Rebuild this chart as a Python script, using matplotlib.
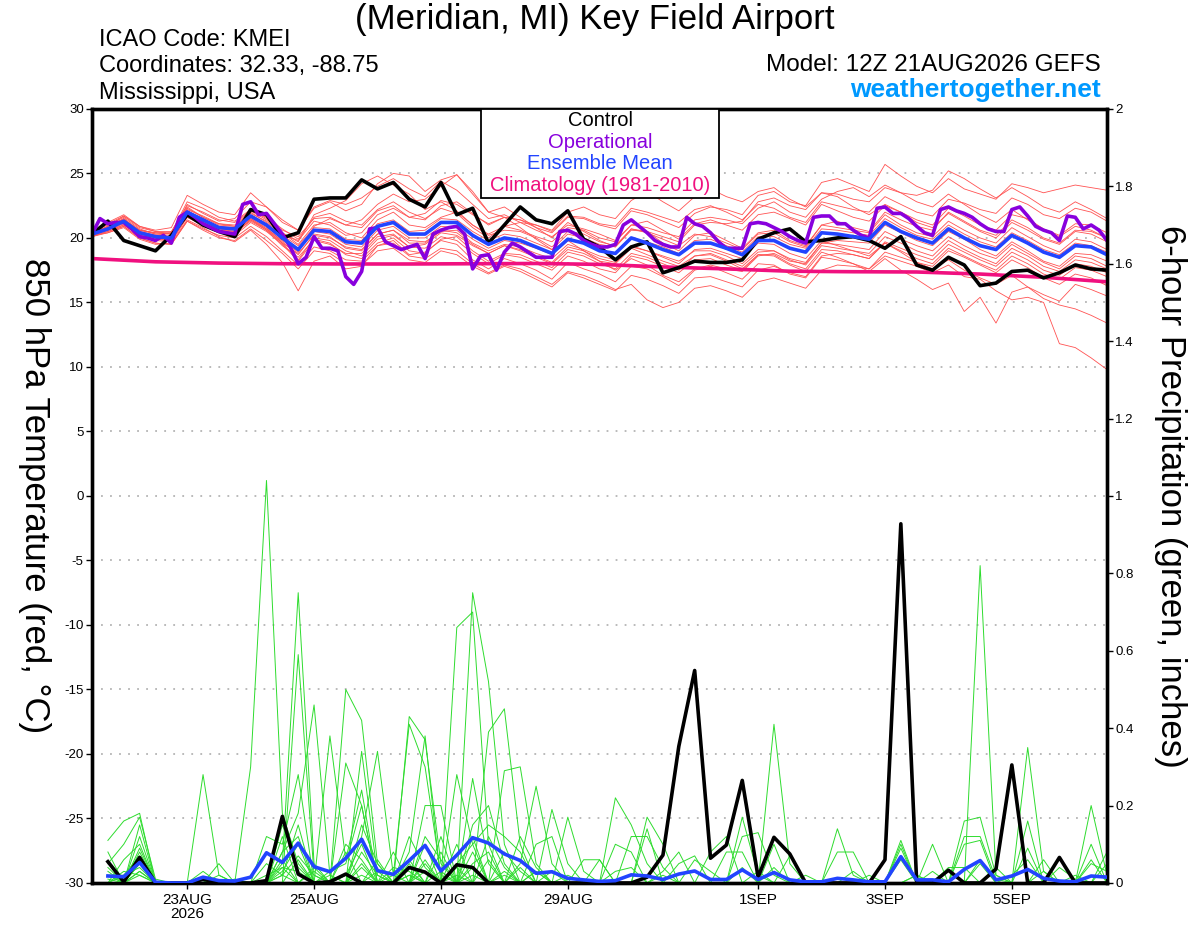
import matplotlib
matplotlib.use('Agg')
import matplotlib.pyplot as plt
import numpy as np
from matplotlib.patches import Rectangle

plt.rcParams['font.family'] = ['Liberation Sans', 'DejaVu Sans']

# Forecast from 12Z 21AUG2026, values every 6 h (temperature) / 3 h (operational)
control_temp = [
    20.3, 21.3, 19.8, 19.4, 19.0, 20.2, 21.8, 21.0,
    20.5, 20.1, 22.2, 21.8, 20.0, 20.4, 23.0, 23.1,
    23.1, 24.5, 23.8, 24.3, 23.0, 22.4, 24.3, 21.8,
    22.3, 19.6, 21.0, 22.4, 21.4, 21.1, 22.1, 19.9,
    19.3, 18.3, 19.3, 19.7, 17.3, 17.7, 18.2, 18.1,
    18.1, 18.3, 19.9, 20.4, 20.7, 19.7, 19.8, 20.0,
    20.1, 19.8, 19.2, 20.1, 17.9, 17.5, 18.5, 17.9,
    16.3, 16.5, 17.4, 17.5, 16.9, 17.3, 17.9, 17.6,
    17.5]

operational_temp = [
    20.3, 21.5, 21.1, 21.2, 21.2, 20.7, 20.1, 20.0,
    19.8, 20.2, 19.6, 21.6, 22.0, 21.6, 21.1, 20.8,
    20.5, 20.4, 20.3, 22.6, 22.8, 21.8, 21.9, 21.1,
    20.3, 19.3, 18.0, 18.5, 20.1, 19.2, 19.2, 19.0,
    17.0, 16.4, 17.4, 20.7, 20.8, 19.7, 19.4, 19.1,
    19.3, 19.5, 18.4, 20.3, 20.6, 20.8, 20.9, 20.3,
    17.6, 18.6, 18.7, 17.5, 18.9, 19.6, 19.3, 18.9,
    18.5, 18.5, 18.5, 20.5, 20.6, 20.3, 19.8, 19.5,
    19.3,
    19.3, 19.5, 21.0, 21.4, 20.9, 20.4, 19.8, 19.5,
    19.3, 19.3, 21.6, 21.1, 20.9, 20.4, 19.7, 19.2,
    19.2, 19.2, 21.1, 21.2, 21.1, 20.8, 20.5, 20.1,
    19.8, 19.6, 21.6, 21.7, 21.7, 21.1, 21.1, 20.6,
    20.2, 20.0, 22.3, 22.4, 21.9, 21.9, 21.5, 20.9,
    20.4, 20.2, 22.2, 22.4, 22.1, 21.9, 21.6, 21.1,
    20.7, 20.5, 20.5, 22.2, 22.4, 21.7, 20.9, 20.6,
    20.4, 19.8, 21.7, 21.6, 20.7, 21.0, 20.6, 19.8]

mean_temp = [
    20.3, 20.7, 21.3, 20.4, 20.1, 20.0, 22.0, 21.4,
    20.8, 20.7, 21.7, 21.0, 20.0, 19.1, 20.6, 20.5,
    19.7, 19.6, 20.9, 21.2, 20.3, 20.3, 21.2, 21.2,
    20.2, 19.5, 20.0, 19.8, 19.3, 18.8, 19.9, 19.6,
    19.0, 18.8, 20.0, 19.6, 19.1, 18.7, 19.6, 19.6,
    19.2, 18.7, 19.8, 19.8, 19.2, 18.9, 20.4, 20.3,
    20.1, 19.9, 21.2, 20.5, 20.0, 19.6, 20.7, 20.0,
    19.4, 19.1, 20.2, 19.6, 18.9, 18.5, 19.4, 19.3,
    18.7]

# daily climatology (1981-2010)
climatology = [18.4, 18.15, 18.05, 18.0, 17.98, 17.98, 18.0, 18.02, 17.95,
               17.75, 17.6, 17.42, 17.38, 17.36, 17.2, 16.95, 16.6]

temp_members = [
    [20.4, 21.2, 21.8, 20.9, 20.5, 20.3, 22.6, 21.9, 21.3, 21.5, 22.8, 22.4, 21.2, 20.6, 22.4, 22.9,
     22.6, 23.1, 24.0, 24.6, 23.8, 23.2, 24.4, 23.7, 22.6, 21.5, 21.8, 21.2, 20.6, 20.1, 21.0, 20.7,
     20.3, 19.8, 21.0, 21.3, 20.6, 19.9, 21.1, 21.4, 21.0, 20.6, 21.8, 22.0, 21.5, 21.0, 22.6, 22.1,
     21.6, 21.3, 22.5, 22.0, 21.4, 21.0, 22.3, 21.7, 21.0, 20.6, 21.8, 21.5, 20.7, 20.2, 21.1, 21.0, 20.4],
    [20.2, 20.4, 20.8, 19.9, 19.5, 19.6, 21.4, 20.8, 20.1, 19.7, 20.6, 19.5, 18.1, 15.9, 18.2, 18.6,
     17.6, 17.8, 19.4, 19.8, 18.7, 18.9, 19.8, 19.5, 18.3, 17.6, 18.4, 18.0, 17.5, 16.8, 18.1, 17.6,
     17.2, 16.6, 17.8, 17.6, 17.0, 16.3, 17.5, 17.8, 17.3, 16.8, 18.0, 17.9, 17.2, 16.9, 18.5, 18.3,
     18.0, 17.6, 18.6, 18.2, 17.8, 17.3, 17.9, 17.0, 16.8, 15.9, 15.2, 15.4, 15.0, 11.8, 11.5, 10.7, 9.8],
    [20.5, 21.0, 21.6, 20.7, 20.3, 20.4, 22.3, 21.6, 21.0, 20.9, 22.0, 21.2, 20.3, 19.8, 21.3, 21.0,
     20.2, 20.4, 21.8, 22.3, 21.6, 21.4, 22.5, 22.8, 21.9, 21.0, 21.6, 21.4, 20.8, 20.4, 21.6, 21.5,
     21.0, 20.7, 22.1, 21.8, 21.3, 20.8, 21.9, 22.4, 22.2, 21.8, 23.3, 23.6, 22.8, 22.5, 24.3, 24.6,
     24.1, 23.6, 25.7, 24.8, 24.0, 23.5, 24.6, 23.8, 23.4, 23.0, 24.2, 23.9, 23.5, 23.8, 24.1, 23.9, 23.7],
    [20.3, 20.9, 21.7, 20.9, 20.6, 20.8, 23.3, 22.6, 22.0, 21.8, 23.5, 22.4, 21.4, 20.6, 22.3, 22.8,
     22.1, 22.6, 24.2, 25.0, 24.8, 23.6, 24.5, 24.9, 23.4, 22.0, 22.4, 21.6, 20.8, 20.0, 21.2, 20.5,
     19.8, 19.3, 20.7, 20.5, 19.6, 19.0, 20.2, 20.4, 19.8, 19.2, 20.4, 20.6, 19.8, 19.4, 21.0, 21.3,
     20.8, 20.5, 22.0, 21.4, 20.9, 20.6, 22.0, 21.3, 20.6, 20.2, 21.4, 20.8, 20.0, 19.6, 20.6, 20.5, 20.0],
    [20.2, 20.6, 21.1, 20.1, 19.8, 19.7, 21.6, 21.0, 20.5, 20.4, 21.4, 20.6, 19.4, 18.5, 19.9, 19.6,
     18.7, 18.4, 19.6, 20.0, 19.0, 18.8, 19.9, 20.1, 19.0, 18.2, 18.8, 18.7, 18.2, 17.7, 18.9, 18.6,
     18.0, 17.6, 18.8, 18.5, 18.0, 17.5, 18.6, 18.7, 18.2, 17.6, 18.7, 18.6, 17.9, 17.4, 18.9, 18.5,
     18.0, 17.4, 18.4, 17.5, 16.8, 16.0, 16.5, 14.3, 15.4, 13.4, 15.8, 16.2, 15.6, 15.1, 16.4, 16.0, 15.5],
    [20.4, 20.8, 21.5, 20.6, 20.3, 20.2, 22.4, 21.6, 21.1, 20.9, 21.9, 21.3, 20.4, 19.5, 21.0, 21.2,
     20.4, 20.0, 21.4, 22.0, 21.0, 20.8, 21.6, 22.0, 21.0, 20.2, 20.6, 20.5, 20.0, 19.3, 20.5, 20.3,
     19.7, 19.4, 20.7, 20.4, 19.9, 19.4, 20.3, 20.1, 19.6, 19.1, 20.3, 20.4, 19.7, 19.3, 21.0, 20.8,
     20.6, 20.4, 21.8, 21.0, 20.4, 20.1, 21.3, 20.6, 20.0, 19.6, 20.8, 20.1, 19.4, 18.9, 19.9, 19.7, 19.1],
    [20.1, 20.5, 21.0, 20.2, 19.9, 19.8, 21.8, 21.1, 20.5, 20.2, 21.2, 20.5, 19.5, 18.2, 19.8, 19.5,
     18.8, 18.8, 20.1, 20.3, 19.3, 19.5, 20.4, 20.2, 19.4, 18.8, 19.4, 19.0, 18.5, 18.0, 19.1, 18.8,
     18.2, 18.0, 19.2, 18.7, 18.2, 17.8, 18.6, 18.8, 18.3, 17.8, 18.9, 19.0, 18.3, 17.9, 19.4, 19.2,
     19.0, 18.8, 20.1, 19.6, 19.0, 18.6, 19.8, 19.1, 18.5, 18.0, 19.2, 18.6, 17.8, 17.4, 18.3, 18.1, 17.6],
    [20.3, 20.7, 21.2, 20.3, 20.0, 19.9, 21.9, 21.3, 20.7, 20.5, 21.5, 20.7, 19.8, 18.9, 20.9, 21.5,
     21.0, 21.4, 22.6, 23.4, 22.8, 23.0, 24.0, 24.9, 23.6, 22.0, 21.6, 20.8, 19.9, 19.1, 19.8, 19.0,
     18.2, 17.5, 18.4, 17.9, 17.1, 16.6, 17.6, 17.9, 17.6, 17.4, 18.6, 18.8, 18.2, 18.0, 19.6, 19.8,
     19.7, 19.6, 21.0, 20.4, 19.8, 19.4, 20.5, 19.9, 19.1, 18.6, 19.7, 19.0, 18.2, 17.8, 18.8, 18.7, 18.2],
    [20.4, 20.8, 21.4, 20.5, 20.2, 20.1, 22.1, 21.5, 20.9, 20.8, 21.8, 21.1, 20.2, 19.4, 20.8, 20.7,
     19.9, 19.8, 21.1, 21.4, 20.5, 20.6, 21.5, 21.4, 20.5, 19.8, 20.3, 20.1, 19.6, 19.1, 20.3, 20.0,
     19.5, 19.3, 20.6, 20.5, 20.1, 19.7, 21.0, 21.2, 21.1, 21.3, 22.8, 23.1, 22.5, 22.2, 23.5, 23.4,
     23.0, 22.8, 23.9, 23.5, 23.3, 23.7, 25.2, 24.6, 23.8, 23.1, 23.9, 23.2, 22.4, 22.0, 22.8, 22.2, 21.5],
    [20.2, 20.5, 20.9, 20.0, 19.6, 19.5, 21.3, 20.6, 20.0, 19.8, 20.7, 19.8, 18.8, 17.6, 19.0, 18.8,
     18.0, 17.9, 19.0, 19.2, 18.3, 18.1, 19.0, 18.7, 17.8, 17.2, 17.8, 17.4, 16.8, 16.2, 17.3, 16.9,
     16.4, 15.9, 17.1, 16.8, 16.3, 15.7, 16.9, 17.0, 16.6, 16.2, 17.5, 17.8, 17.3, 17.0, 18.6, 18.8,
     18.7, 18.4, 19.7, 19.2, 18.7, 18.3, 19.5, 18.9, 18.3, 17.8, 18.9, 18.3, 17.5, 17.1, 18.0, 17.8, 17.3],
    [20.3, 20.8, 21.4, 20.6, 20.4, 20.4, 22.8, 22.3, 21.6, 21.3, 22.2, 21.5, 20.4, 19.7, 21.8, 22.3,
     22.9, 24.2, 24.8, 24.1, 23.4, 22.2, 22.8, 22.1, 21.0, 20.3, 20.9, 20.6, 20.1, 19.7, 20.8, 20.6,
     20.0, 19.7, 21.0, 20.8, 20.4, 20.1, 21.4, 21.6, 21.4, 21.1, 22.3, 22.8, 22.0, 21.6, 23.0, 23.6,
     23.9, 23.2, 24.1, 23.5, 22.8, 22.4, 23.4, 22.6, 21.8, 21.2, 22.2, 21.4, 20.6, 20.1, 20.9, 20.6, 20.0],
    [20.3, 20.6, 21.2, 20.3, 20.0, 19.9, 21.8, 21.2, 20.6, 20.5, 21.5, 20.8, 19.7, 18.7, 20.3, 20.1,
     19.2, 19.0, 20.3, 20.6, 19.6, 19.6, 20.6, 20.4, 19.5, 18.8, 19.4, 19.1, 18.6, 18.1, 19.3, 19.0,
     18.4, 18.1, 19.3, 19.0, 18.5, 18.0, 19.1, 19.2, 18.8, 18.4, 19.6, 19.5, 18.8, 18.4, 19.8, 19.4,
     19.0, 18.6, 19.6, 18.9, 18.1, 17.6, 18.3, 17.5, 16.9, 16.4, 17.1, 16.2, 15.3, 14.8, 14.5, 14.0, 13.4],
    [20.2, 20.6, 21.0, 20.2, 19.9, 19.8, 21.6, 21.0, 20.4, 20.4, 21.3, 20.6, 19.6, 18.8, 20.2, 20.0,
     19.3, 19.1, 20.3, 20.6, 19.8, 19.7, 20.5, 20.6, 19.6, 19.0, 19.5, 19.3, 18.8, 18.4, 19.5, 19.1,
     18.6, 18.3, 19.4, 19.0, 18.6, 18.2, 19.0, 19.0, 18.6, 18.0, 19.1, 19.0, 18.4, 18.1, 19.6, 19.5,
     19.3, 19.1, 20.5, 19.9, 19.4, 19.0, 20.1, 19.4, 18.8, 18.4, 19.5, 18.8, 18.1, 17.6, 18.6, 18.4, 17.8],
    [20.5, 21.1, 21.7, 20.8, 20.5, 20.5, 22.5, 22.0, 21.4, 21.2, 22.1, 21.4, 20.6, 20.1, 21.5, 21.6,
     21.0, 20.8, 22.1, 22.5, 21.6, 21.9, 22.9, 22.6, 21.8, 21.1, 21.6, 21.4, 21.0, 20.5, 21.7, 21.6,
     21.1, 20.9, 22.3, 22.0, 21.6, 21.2, 22.2, 22.5, 22.0, 21.4, 22.6, 22.3, 21.6, 21.2, 22.8, 22.5,
     22.2, 22.0, 23.2, 22.6, 22.0, 21.7, 23.0, 22.7, 22.2, 21.9, 23.1, 22.6, 21.8, 21.5, 22.3, 22.0, 21.3],
    [20.4, 20.7, 21.2, 20.5, 20.2, 20.1, 21.9, 21.2, 20.7, 20.6, 21.6, 20.9, 19.9, 19.0, 20.5, 20.3,
     19.5, 19.3, 20.6, 20.9, 20.0, 20.0, 20.9, 20.8, 19.9, 19.2, 19.8, 19.6, 19.2, 18.7, 19.8, 19.6,
     19.0, 18.8, 20.0, 19.7, 19.3, 18.8, 19.8, 19.9, 19.4, 18.9, 20.1, 20.1, 19.5, 19.2, 20.7, 20.6,
     20.4, 20.2, 21.5, 20.8, 20.2, 19.9, 21.0, 20.3, 19.7, 19.3, 20.4, 19.8, 19.1, 18.7, 19.6, 19.4, 18.9],
    [20.3, 20.9, 21.5, 20.4, 20.0, 19.8, 21.9, 21.3, 20.6, 20.4, 21.4, 20.7, 19.6, 18.3, 20.0, 19.8,
     19.0, 18.6, 19.9, 20.2, 19.3, 19.2, 20.1, 19.8, 18.8, 18.0, 18.7, 18.5, 18.0, 17.5, 18.6, 18.2,
     17.6, 17.3, 18.6, 18.3, 17.8, 17.3, 18.3, 18.4, 17.9, 17.5, 18.7, 18.7, 18.0, 17.6, 19.1, 19.0,
     18.7, 18.4, 19.6, 19.0, 18.4, 18.0, 19.2, 18.6, 18.0, 17.5, 18.6, 18.0, 17.2, 16.8, 17.7, 17.5, 17.0],
    [20.4, 20.9, 21.4, 20.6, 20.4, 20.3, 22.2, 21.7, 21.1, 21.0, 22.1, 21.6, 20.7, 19.9, 21.6, 21.9,
     21.3, 21.0, 22.2, 22.8, 22.0, 21.5, 22.3, 21.9, 20.8, 20.0, 20.9, 21.2, 21.0, 20.6, 22.0, 22.4,
     21.8, 21.5, 22.9, 23.6, 22.8, 22.1, 23.2, 23.8, 23.2, 22.8, 23.6, 23.9, 23.0, 22.4, 23.5, 23.2,
     22.4, 21.8, 22.6, 22.0, 21.2, 20.8, 21.9, 21.2, 20.5, 20.0, 21.2, 20.6, 19.9, 19.5, 20.5, 20.3, 19.7],
    [20.1, 20.4, 20.9, 20.0, 19.6, 19.5, 21.3, 20.7, 20.2, 20.0, 20.9, 20.1, 19.0, 17.9, 19.3, 19.0,
     18.3, 18.2, 19.4, 19.6, 18.6, 18.4, 19.2, 19.0, 18.0, 17.3, 17.9, 17.6, 17.0, 16.4, 17.4, 17.1,
     16.6, 16.0, 16.4, 15.2, 14.6, 15.0, 16.1, 16.3, 15.9, 15.4, 16.6, 16.9, 16.5, 16.1, 17.5, 17.9,
     17.8, 17.6, 18.9, 18.5, 18.1, 17.8, 19.0, 18.5, 17.9, 17.3, 18.3, 17.7, 16.9, 16.4, 17.2, 16.9, 16.3],
]

# 6-hour precipitation (inches), valid +6h ... +384h
control_precip = [
    0.055, 0.003, 0.066, 0.0, 0.0, 0.0, 0.009, 0.002,
    0.0, 0.0, 0.006, 0.172, 0.023, 0.0, 0.003, 0.023,
    0.0, 0.0, 0.0, 0.04, 0.028, 0.0, 0.047, 0.04,
    0.0, 0.0, 0.0, 0.0, 0.0, 0.0, 0.0, 0.0,
    0.0, 0.0, 0.015, 0.072, 0.353, 0.549, 0.064, 0.098,
    0.265, 0.015, 0.118, 0.075, 0.0, 0.0, 0.0, 0.0,
    0.0, 0.06, 0.928, 0.0, 0.0, 0.033, 0.0, 0.0,
    0.036, 0.305, 0.0, 0.0, 0.066, 0.0, 0.0, 0.0]

mean_precip = [
    0.018, 0.016, 0.053, 0.002, 0.0, 0.0, 0.015, 0.006,
    0.005, 0.015, 0.078, 0.053, 0.103, 0.042, 0.029, 0.064,
    0.113, 0.032, 0.022, 0.058, 0.097, 0.031, 0.072, 0.117,
    0.103, 0.075, 0.058, 0.025, 0.029, 0.012, 0.008, 0.004,
    0.006, 0.021, 0.018, 0.009, 0.023, 0.031, 0.009, 0.009,
    0.034, 0.009, 0.027, 0.008, 0.003, 0.003, 0.012, 0.008,
    0.003, 0.003, 0.068, 0.008, 0.008, 0.003, 0.035, 0.058,
    0.008, 0.018, 0.035, 0.012, 0.005, 0.003, 0.018, 0.015]

precip_members = [
    [.05, .10, .17, .01, 0, 0, 0, 0, 0, .30, 1.04, .18, .05, 0, 0, .02,
     .10, 0, 0, .02, 0, 0, 0, .27, .05, 0, 0, .03, 0, 0, 0, 0,
     .22, .15, .05, 0, 0, 0, 0, 0, 0, 0, 0, 0, 0, 0, 0, 0,
     0, 0, 0, 0, 0, 0, 0, 0, 0, 0, 0, 0, 0, 0, 0, 0],
    [.11, .16, .18, 0, 0, 0, .01, 0, 0, 0, 0, .05, .75, .05, 0, .50,
     .42, .05, 0, 0, .03, 0, .66, .70, .10, 0, 0, 0, .19, .05, 0, 0,
     0, 0, 0, 0, 0, 0, 0, 0, 0, 0, .41, .05, 0, 0, 0, 0,
     0, 0, 0, 0, 0, 0, 0, 0, 0, 0, 0, 0, 0, 0, 0, 0],
    [.02, 0, .15, 0, 0, 0, .28, .02, 0, 0, 0, 0, .59, .02, 0, 0,
     .34, .02, 0, .43, .37, .05, 0, .75, .52, .10, 0, 0, 0, 0, 0, 0,
     0, 0, 0, .03, .08, 0, 0, 0, 0, 0, 0, 0, 0, 0, 0, 0,
     0, 0, 0, 0, 0, 0, 0, .82, .02, 0, 0, 0, 0, 0, 0, 0],
    [.04, 0, .12, 0, 0, 0, 0, 0, 0, 0, 0, .08, .18, .46, .02, 0,
     .12, .34, .02, .41, .30, .02, 0, 0, .39, .45, .10, 0, 0, 0, 0, 0,
     0, 0, 0, 0, 0, 0, 0, 0, 0, 0, 0, 0, 0, 0, 0, 0,
     0, 0, 0, 0, 0, 0, 0, 0, 0, 0, .35, .03, 0, 0, 0, 0],
    [0, .06, .10, 0, 0, 0, 0, .05, 0, 0, .12, .10, .28, 0, .38, .06,
     .24, 0, 0, .08, .38, 0, .28, .10, 0, .29, .30, .05, 0, 0, 0, 0,
     0, 0, 0, 0, 0, 0, 0, 0, .17, .02, 0, 0, 0, 0, 0, 0,
     0, 0, 0, 0, 0, 0, 0, 0, 0, 0, 0, 0, 0, 0, 0, 0],
    [.08, 0, .08, 0, 0, 0, 0, 0, 0, 0, 0, .02, .15, 0, 0, .31,
     .20, 0, .08, 0, .20, .20, 0, .12, 0, 0, .05, .25, .05, 0, 0, 0,
     0, 0, 0, 0, 0, 0, 0, 0, 0, 0, .10, 0, 0, 0, 0, 0,
     0, 0, 0, 0, 0, 0, .16, .17, .02, 0, 0, 0, 0, 0, .20, .02],
    [0, 0, .06, 0, 0, 0, 0, 0, .01, 0, 0, .03, .10, 0, 0, 0,
     .15, .05, 0, .05, 0, .08, 0, .15, .20, .05, 0, 0, 0, .17, .03, 0,
     0, 0, .17, .10, 0, 0, 0, 0, .12, .13, .02, 0, 0, 0, 0, 0,
     0, 0, .11, 0, 0, 0, 0, 0, 0, 0, 0, 0, 0, 0, 0, 0],
    [.02, .02, .04, 0, 0, 0, 0, 0, 0, 0, .05, .02, .07, .02, 0, 0,
     .05, 0, 0, 0, .10, 0, .05, .10, .15, .12, .08, 0, 0, 0, 0, 0,
     .10, .08, 0, 0, 0, 0, 0, 0, 0, 0, 0, 0, 0, 0, 0, 0,
     0, 0, .09, 0, .10, 0, 0, 0, 0, 0, .16, 0, 0, 0, .10, 0],
    [0, 0, .05, 0, 0, 0, .03, 0, 0, 0, 0, .12, 0, .03, 0, .08,
     0, .06, 0, .12, .04, 0, .10, 0, .12, .04, 0, .10, .12, 0, 0, 0,
     0, 0, 0, 0, .05, .07, 0, 0, 0, 0, 0, 0, 0, 0, .14, .02,
     0, 0, 0, 0, 0, 0, .12, .12, .01, 0, 0, 0, 0, 0, 0, 0],
    [.03, 0, .03, 0, 0, 0, 0, 0, 0, 0, 0, .08, .12, 0, .03, .05,
     .20, 0, .02, 0, .12, .06, 0, .08, 0, 0, .12, .04, 0, 0, 0, .06,
     0, 0, .14, 0, 0, 0, 0, .08, .08, 0, 0, 0, 0, 0, 0, 0,
     0, 0, 0, 0, 0, 0, 0, 0, 0, 0, .09, 0, 0, 0, 0, .08],
    [0, 0, .09, 0, 0, 0, 0, .02, 0, 0, 0, .15, .04, 0, 0, 0,
     .08, .02, 0, .06, 0, .12, 0, .05, .08, 0, 0, 0, 0, 0, .06, .06,
     0, 0, 0, 0, 0, 0, .08, .12, 0, 0, 0, 0, 0, 0, 0, 0,
     0, 0, .10, 0, 0, 0, .10, .11, 0, 0, 0, .06, 0, 0, .06, 0],
    [.01, 0, .02, 0, 0, 0, 0, 0, 0, 0, 0, .06, 0, 0, 0, .10,
     .06, 0, 0, 0, .06, 0, .02, 0, 0, .08, .03, 0, 0, 0, 0, 0,
     0, .12, .12, .04, 0, 0, 0, 0, 0, 0, 0, .07, 0, 0, .08, .08,
     0, 0, 0, .02, 0, 0, 0, .05, 0, 0, 0, 0, 0, .02, 0, .05],
    [0, .02, .07, 0, 0, 0, 0, 0, 0, 0, 0, .04, .03, 0, 0, 0,
     .04, 0, 0, .02, 0, 0, 0, .04, 0, .03, 0, 0, 0, 0, 0, 0,
     0, 0, 0, 0, 0, .06, .03, 0, 0, 0, .04, 0, 0, 0, 0, 0,
     0, 0, .06, 0, .03, 0, 0, 0, 0, .02, .06, 0, 0, 0, 0, 0],
    [0, 0, .03, 0, 0, 0, 0, 0, 0, 0, .02, .04, 0, 0, 0, .02,
     0, .03, 0, 0, .05, 0, 0, 0, .06, 0, 0, 0, .03, 0, 0, 0,
     .03, .04, 0, 0, 0, 0, 0, 0, 0, 0, 0, 0, .02, 0, 0, 0,
     0, 0, 0, 0, 0, .04, .04, 0, 0, 0, 0, 0, .04, .01, 0, 0],
    [.02, 0, .05, 0, 0, 0, 0, 0, 0, 0, 0, .02, 0, .04, 0, 0,
     .02, 0, 0, 0, 0, .03, 0, .02, 0, 0, .04, 0, 0, .02, 0, 0,
     0, 0, 0, .02, 0, 0, 0, 0, .04, 0, 0, 0, 0, 0, 0, .03,
     0, 0, 0, .02, 0, 0, 0, 0, .04, 0, 0, 0, 0, 0, .05, .03],
    [0, .03, .02, 0, 0, 0, 0, 0, 0, 0, 0, 0, .06, 0, .02, 0,
     0, 0, .04, .03, 0, 0, .04, 0, 0, .02, 0, .03, 0, 0, 0, 0,
     0, 0, 0, 0, 0, 0, 0, 0, 0, .03, 0, 0, 0, 0, 0, 0,
     .02, 0, 0, 0, 0, 0, 0, .06, 0, 0, 0, .03, 0, 0, 0, 0],
]

date_ticks = [36, 84, 132, 180, 252, 300, 348]
date_labels = ['23AUG\n2026', '25AUG', '27AUG', '29AUG', '1SEP', '3SEP', '5SEP']

hours6 = np.arange(len(control_temp)) * 6
hours3 = np.arange(len(operational_temp)) * 3
hours_clim = np.arange(len(climatology)) * 24
hours_precip = hours6[1:]

fig = plt.figure(figsize=(12, 9.27), dpi=100)
ax = fig.add_axes([0.0767, 0.0475, 0.8458, 0.835])
ax2 = ax.twinx()

# temperature
for m in temp_members:
    ax.plot(hours6, m, color='#ff5252', lw=0.6, zorder=2)
ax.plot(hours_clim, climatology, color='#f0107f', lw=2.6, zorder=3)
ax.plot(hours6, control_temp, color='black', lw=2.6, zorder=4)
ax.plot(hours3, operational_temp, color='#8800dd', lw=2.6, zorder=5)
ax.plot(hours6, mean_temp, color='#2244ff', lw=2.6, zorder=6)

# precipitation
for m in precip_members:
    ax2.plot(hours_precip, m, color='#2edc2e', lw=0.7, zorder=2)
ax2.plot(hours_precip, control_precip, color='black', lw=2.6, zorder=4)
ax2.plot(hours_precip, mean_precip, color='#2244ff', lw=2.6, zorder=5)

ax.set_xlim(0, 384)
ax.set_ylim(-30, 30)
ax2.set_ylim(0, 2)

ax.set_yticks(range(-30, 31, 5))
ax.set_yticklabels([str(v) for v in range(-30, 31, 5)])
ax2.set_yticks(np.arange(0, 2.01, 0.2))
ax2.set_yticklabels(['0', '0.2', '0.4', '0.6', '0.8', '1', '1.2', '1.4', '1.6', '1.8', '2'])
ax.set_xticks(date_ticks)
ax.set_xticklabels(date_labels, fontsize=11, linespacing=1.0)

ax.tick_params(axis='y', direction='out', length=4, width=1, labelsize=9.5, pad=2)
ax2.tick_params(axis='y', direction='out', length=4, width=1, labelsize=9.5, pad=2)
ax.tick_params(axis='x', direction='out', length=4, width=1, pad=3)

ax.grid(axis='y', color='#b4b4b4', lw=1.3, ls=(0, (1, 4)), zorder=1)

for a in (ax, ax2):
    for s in a.spines.values():
        s.set_linewidth(2.4)

# legend box
ax2.add_patch(Rectangle((0.383, 0.885), 0.235, 0.115, transform=ax2.transAxes,
                        facecolor='white', edgecolor='black', lw=1.3, zorder=10))
legend_items = [('Control', 'black'), ('Operational', '#8800dd'),
                ('Ensemble Mean', '#2244ff'), ('Climatology (1981-2010)', '#f0107f')]
for k, (txt, col) in enumerate(legend_items):
    ax2.text(0.5005, 0.9845 - k * 0.0277, txt, color=col, fontsize=14.5,
             ha='center', va='center', transform=ax2.transAxes, zorder=11)

# headers
fig.text(0.496, 0.979, '(Meridian, MI) Key Field Airport', fontsize=25, ha='center', va='center')
fig.text(0.0825, 0.9568, 'ICAO Code: KMEI', fontsize=17, ha='left', va='center')
fig.text(0.0825, 0.9288, 'Coordinates: 32.33, -88.75', fontsize=17, ha='left', va='center')
fig.text(0.0825, 0.8997, 'Mississippi, USA', fontsize=17, ha='left', va='center')
fig.text(0.9175, 0.9299, 'Model: 12Z 21AUG2026 GEFS', fontsize=17.5, ha='right', va='center')
fig.text(0.9175, 0.9029, 'weathertogether.net', fontsize=19, fontweight='bold',
         color='#0099ff', ha='right', va='center')

fig.text(0.029, 0.465, '850 hPa Temperature (red, \u00b0C)', rotation=270,
         fontsize=25, ha='center', va='center')
fig.text(0.975, 0.465, '6-hour Precipitation (green, inches)', rotation=270,
         fontsize=25, ha='center', va='center')

fig.savefig('out.png', dpi=100)
